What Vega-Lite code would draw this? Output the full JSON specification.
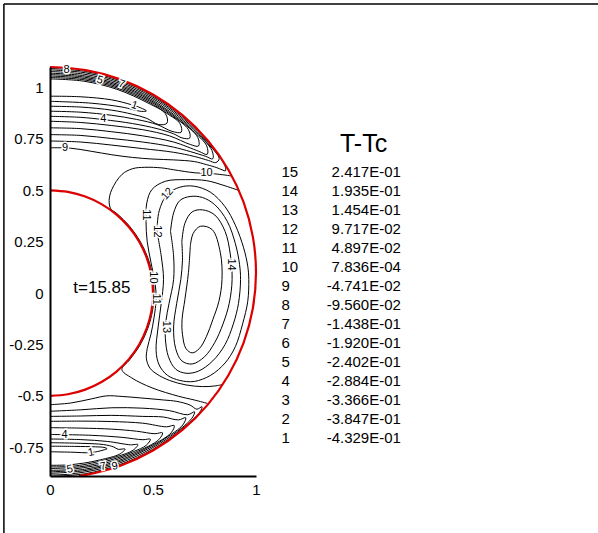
{
"$schema": "https://vega.github.io/schema/vega-lite/v6.json",
"width": 206, "height": 409,
"autosize": "none",
"padding": {"left": 50, "top": 67, "right": 342, "bottom": 57},
"background": "white",
"config": {"view": {"stroke": null}},
"datasets": {
"frame": [{"x":-0.2238,"y":1.4066,"x2":2.8,"y2":1.4066},{"x":-0.2238,"y":1.4066,"x2":-0.2238,"y2":-1.3}],
"annL": [{"x":0.113,"y":0.025,"t":"t=15.85"}],
"annT": [{"x":1.522,"y":0.727,"t":"T-Tc"}],
"contours": [
{"c":"a1","i":0,"x":0,"y":0.958},{"c":"a1","i":1,"x":0.15,"y":0.955},{"c":"a1","i":2,"x":0.3,"y":0.94},{"c":"a1","i":3,"x":0.4,"y":0.915},{"c":"a1","i":4,"x":0.45,"y":0.897},{"c":"a1","i":5,"x":0.468,"y":0.886},{"c":"a1","i":6,"x":0.445,"y":0.884},{"c":"a1","i":7,"x":0.35,"y":0.905},{"c":"a1","i":8,"x":0.2,"y":0.924},{"c":"a1","i":9,"x":0,"y":0.933},
{"c":"a2","i":0,"x":0,"y":0.909},{"c":"a2","i":1,"x":0.15,"y":0.905},{"c":"a2","i":2,"x":0.3,"y":0.89},{"c":"a2","i":3,"x":0.4,"y":0.87},{"c":"a2","i":4,"x":0.47,"y":0.85},{"c":"a2","i":5,"x":0.527,"y":0.82},{"c":"a2","i":6,"x":0.568,"y":0.827},{"c":"a2","i":7,"x":0.5608,"y":0.872},{"c":"a2","i":8,"x":0.476,"y":0.9245},{"c":"a2","i":9,"x":0.3245,"y":0.9916},{"c":"a2","i":10,"x":0.1641,"y":1.031},{"c":"a2","i":11,"x":0,"y":1.042},
{"c":"a3","i":0,"x":0,"y":0.885},{"c":"a3","i":1,"x":0.15,"y":0.88},{"c":"a3","i":2,"x":0.3,"y":0.865},{"c":"a3","i":3,"x":0.42,"y":0.845},{"c":"a3","i":4,"x":0.52,"y":0.82},{"c":"a3","i":5,"x":0.592,"y":0.787},{"c":"a3","i":6,"x":0.637,"y":0.783},{"c":"a3","i":7,"x":0.6305,"y":0.8253},{"c":"a3","i":8,"x":0.5641,"y":0.8764},{"c":"a3","i":9,"x":0.479,"y":0.9296},{"c":"a3","i":10,"x":0.3266,"y":0.9974},{"c":"a3","i":11,"x":0.1653,"y":1.0375},{"c":"a3","i":12,"x":0,"y":1.049},
{"c":"a4","i":0,"x":0,"y":0.86},{"c":"a4","i":1,"x":0.15,"y":0.855},{"c":"a4","i":2,"x":0.26,"y":0.844},{"c":"a4","i":3,"x":0.4,"y":0.825},{"c":"a4","i":4,"x":0.52,"y":0.8},{"c":"a4","i":5,"x":0.6,"y":0.775},{"c":"a4","i":6,"x":0.641,"y":0.755},{"c":"a4","i":7,"x":0.678,"y":0.754},{"c":"a4","i":8,"x":0.6718,"y":0.7956},{"c":"a4","i":9,"x":0.581,"y":0.871},{"c":"a4","i":10,"x":0.4819,"y":0.9346},{"c":"a4","i":11,"x":0.3287,"y":1.0032},{"c":"a4","i":12,"x":0.1664,"y":1.044},{"c":"a4","i":13,"x":0,"y":1.056},
{"c":"a5","i":0,"x":0,"y":0.836},{"c":"a5","i":1,"x":0.15,"y":0.83},{"c":"a5","i":2,"x":0.3,"y":0.815},{"c":"a5","i":3,"x":0.45,"y":0.795},{"c":"a5","i":4,"x":0.58,"y":0.765},{"c":"a5","i":5,"x":0.681,"y":0.723},{"c":"a5","i":6,"x":0.7209,"y":0.7156},{"c":"a5","i":7,"x":0.7174,"y":0.7574},{"c":"a5","i":8,"x":0.6245,"y":0.8443},{"c":"a5","i":9,"x":0.4848,"y":0.9396},{"c":"a5","i":10,"x":0.3308,"y":1.009},{"c":"a5","i":11,"x":0.1676,"y":1.0505},{"c":"a5","i":12,"x":0,"y":1.063},
{"c":"a6","i":0,"x":0,"y":0.804},{"c":"a6","i":1,"x":0.15,"y":0.8},{"c":"a6","i":2,"x":0.3,"y":0.785},{"c":"a6","i":3,"x":0.45,"y":0.765},{"c":"a6","i":4,"x":0.6,"y":0.735},{"c":"a6","i":5,"x":0.722,"y":0.69},{"c":"a6","i":6,"x":0.7631,"y":0.675},{"c":"a6","i":7,"x":0.7608,"y":0.7161},{"c":"a6","i":8,"x":0.6915,"y":0.7915},{"c":"a6","i":9,"x":0.628,"y":0.8484},{"c":"a6","i":10,"x":0.4876,"y":0.9445},{"c":"a6","i":11,"x":0.3329,"y":1.0148},{"c":"a6","i":12,"x":0.1687,"y":1.0569},{"c":"a6","i":13,"x":0,"y":1.07},
{"c":"a7","i":0,"x":0,"y":0.771},{"c":"a7","i":1,"x":0.15,"y":0.767},{"c":"a7","i":2,"x":0.3,"y":0.752},{"c":"a7","i":3,"x":0.45,"y":0.735},{"c":"a7","i":4,"x":0.6,"y":0.71},{"c":"a7","i":5,"x":0.754,"y":0.666},{"c":"a7","i":6,"x":0.7897,"y":0.653},{"c":"a7","i":7,"x":0.7866,"y":0.6928},{"c":"a7","i":8,"x":0.6956,"y":0.7956},{"c":"a7","i":9,"x":0.5983,"y":0.8797},{"c":"a7","i":10,"x":0.4909,"y":0.9502},{"c":"a7","i":11,"x":0.3354,"y":1.0215},{"c":"a7","i":12,"x":0.17,"y":1.0644},{"c":"a7","i":13,"x":0,"y":1.078},
{"c":"a8","i":0,"x":0,"y":0.74},{"c":"a8","i":1,"x":0.15,"y":0.735},{"c":"a8","i":2,"x":0.3,"y":0.72},{"c":"a8","i":3,"x":0.45,"y":0.703},{"c":"a8","i":4,"x":0.6,"y":0.685},{"c":"a8","i":5,"x":0.7,"y":0.665},{"c":"a8","i":6,"x":0.77,"y":0.645},{"c":"a8","i":7,"x":0.805,"y":0.635},{"c":"a8","i":8,"x":0.8212,"y":0.654},{"c":"a8","i":9,"x":0.7584,"y":0.7364},{"c":"a8","i":10,"x":0.6998,"y":0.7998},{"c":"a8","i":11,"x":0.6021,"y":0.8847},{"c":"a8","i":12,"x":0.4942,"y":0.956},{"c":"a8","i":13,"x":0.3378,"y":1.028},{"c":"a8","i":14,"x":0.1713,"y":1.0718},{"c":"a8","i":15,"x":0,"y":1.086},
{"c":"a9","i":0,"x":0,"y":0.707},{"c":"a9","i":1,"x":0.1,"y":0.705},{"c":"a9","i":2,"x":0.2,"y":0.69},{"c":"a9","i":3,"x":0.3,"y":0.673},{"c":"a9","i":4,"x":0.4,"y":0.66},{"c":"a9","i":5,"x":0.5,"y":0.652},{"c":"a9","i":6,"x":0.6,"y":0.648},{"c":"a9","i":7,"x":0.7,"y":0.64},{"c":"a9","i":8,"x":0.76,"y":0.625},{"c":"a9","i":9,"x":0.81,"y":0.61},{"c":"a9","i":10,"x":0.835,"y":0.6},{"c":"a9","i":11,"x":0.852,"y":0.595},{"c":"a9","i":12,"x":0.8487,"y":0.6201},{"c":"a9","i":13,"x":0.7622,"y":0.7397},{"c":"a9","i":14,"x":0.6393,"y":0.8619},{"c":"a9","i":15,"x":0.4971,"y":0.961},{"c":"a9","i":16,"x":0.3399,"y":1.0339},{"c":"a9","i":17,"x":0.1725,"y":1.0783},{"c":"a9","i":18,"x":0,"y":1.093},
{"c":"b1","i":0,"x":0,"y":-0.745},{"c":"b1","i":1,"x":0.12,"y":-0.746},{"c":"b1","i":2,"x":0.22,"y":-0.748},{"c":"b1","i":3,"x":0.262,"y":-0.751},{"c":"b1","i":4,"x":0.277,"y":-0.757},{"c":"b1","i":5,"x":0.258,"y":-0.764},{"c":"b1","i":6,"x":0.2,"y":-0.776},{"c":"b1","i":7,"x":0.1,"y":-0.774},{"c":"b1","i":8,"x":0,"y":-0.772},
{"c":"b2","i":0,"x":0,"y":-0.728},{"c":"b2","i":1,"x":0.15,"y":-0.731},{"c":"b2","i":2,"x":0.26,"y":-0.737},{"c":"b2","i":3,"x":0.31,"y":-0.749},{"c":"b2","i":4,"x":0.33,"y":-0.76},{"c":"b2","i":5,"x":0.3645,"y":-0.7588},{"c":"b2","i":6,"x":0.339,"y":-0.783},{"c":"b2","i":7,"x":0.2442,"y":-0.8114},{"c":"b2","i":8,"x":0.1635,"y":-0.8274},{"c":"b2","i":9,"x":0.082,"y":-0.8363},{"c":"b2","i":10,"x":0,"y":-0.838},
{"c":"b3","i":0,"x":0,"y":-0.71},{"c":"b3","i":1,"x":0.15,"y":-0.713},{"c":"b3","i":2,"x":0.28,"y":-0.722},{"c":"b3","i":3,"x":0.391,"y":-0.7383},{"c":"b3","i":4,"x":0.4265,"y":-0.7371},{"c":"b3","i":5,"x":0.4032,"y":-0.7646},{"c":"b3","i":6,"x":0.3258,"y":-0.7951},{"c":"b3","i":7,"x":0.1648,"y":-0.8348},{"c":"b3","i":8,"x":0.0826,"y":-0.844},{"c":"b3","i":9,"x":0,"y":-0.846},
{"c":"b4","i":0,"x":0,"y":-0.688},{"c":"b4","i":1,"x":0.2,"y":-0.692},{"c":"b4","i":2,"x":0.35,"y":-0.702},{"c":"b4","i":3,"x":0.451,"y":-0.7134},{"c":"b4","i":4,"x":0.4872,"y":-0.7109},{"c":"b4","i":5,"x":0.4664,"y":-0.7414},{"c":"b4","i":6,"x":0.4061,"y":-0.7709},{"c":"b4","i":7,"x":0.3281,"y":-0.8016},{"c":"b4","i":8,"x":0.1661,"y":-0.8423},{"c":"b4","i":9,"x":0,"y":-0.854},
{"c":"b5","i":0,"x":0,"y":-0.655},{"c":"b5","i":1,"x":0.15,"y":-0.657},{"c":"b5","i":2,"x":0.3,"y":-0.662},{"c":"b5","i":3,"x":0.42,"y":-0.672},{"c":"b5","i":4,"x":0.5092,"y":-0.6842},{"c":"b5","i":5,"x":0.5461,"y":-0.6799},{"c":"b5","i":6,"x":0.528,"y":-0.7131},{"c":"b5","i":7,"x":0.409,"y":-0.777},{"c":"b5","i":8,"x":0.2498,"y":-0.8325},{"c":"b5","i":9,"x":0.084,"y":-0.8594},{"c":"b5","i":10,"x":0,"y":-0.862},
{"c":"b6","i":0,"x":0,"y":-0.624},{"c":"b6","i":1,"x":0.15,"y":-0.623},{"c":"b6","i":2,"x":0.3,"y":-0.625},{"c":"b6","i":3,"x":0.45,"y":-0.633},{"c":"b6","i":4,"x":0.5657,"y":-0.6507},{"c":"b6","i":5,"x":0.6029,"y":-0.6445},{"c":"b6","i":6,"x":0.5878,"y":-0.68},{"c":"b6","i":7,"x":0.4877,"y":-0.7447},{"c":"b6","i":8,"x":0.333,"y":-0.8149},{"c":"b6","i":9,"x":0.1687,"y":-0.857},{"c":"b6","i":10,"x":0,"y":-0.87},
{"c":"b7","i":0,"x":0,"y":-0.6},{"c":"b7","i":1,"x":0.15,"y":-0.598},{"c":"b7","i":2,"x":0.3,"y":-0.595},{"c":"b7","i":3,"x":0.45,"y":-0.6},{"c":"b7","i":4,"x":0.55,"y":-0.603},{"c":"b7","i":5,"x":0.6233,"y":-0.617},{"c":"b7","i":6,"x":0.6588,"y":-0.6065},{"c":"b7","i":7,"x":0.6447,"y":-0.6416},{"c":"b7","i":8,"x":0.5632,"y":-0.7043},{"c":"b7","i":9,"x":0.4906,"y":-0.7496},{"c":"b7","i":10,"x":0.3351,"y":-0.8207},{"c":"b7","i":11,"x":0.1699,"y":-0.8635},{"c":"b7","i":12,"x":0,"y":-0.877},
{"c":"b8","i":0,"x":0,"y":-0.575},{"c":"b8","i":1,"x":0.15,"y":-0.568},{"c":"b8","i":2,"x":0.3,"y":-0.558},{"c":"b8","i":3,"x":0.45,"y":-0.56},{"c":"b8","i":4,"x":0.58,"y":-0.572},{"c":"b8","i":5,"x":0.6683,"y":-0.592},{"c":"b8","i":6,"x":0.7017,"y":-0.5777},{"c":"b8","i":7,"x":0.687,"y":-0.6114},{"c":"b8","i":8,"x":0.5668,"y":-0.7095},{"c":"b8","i":9,"x":0.4172,"y":-0.7947},{"c":"b8","i":10,"x":0.2553,"y":-0.8527},{"c":"b8","i":11,"x":0.0859,"y":-0.8818},{"c":"b8","i":12,"x":0,"y":-0.885},
{"c":"b9","i":0,"x":0,"y":-0.543},{"c":"b9","i":1,"x":0.1,"y":-0.535},{"c":"b9","i":2,"x":0.2,"y":-0.515},{"c":"b9","i":3,"x":0.276,"y":-0.5},{"c":"b9","i":4,"x":0.35,"y":-0.503},{"c":"b9","i":5,"x":0.438,"y":-0.51},{"c":"b9","i":6,"x":0.55,"y":-0.52},{"c":"b9","i":7,"x":0.616,"y":-0.527},{"c":"b9","i":8,"x":0.68,"y":-0.545},{"c":"b9","i":9,"x":0.7131,"y":-0.565},{"c":"b9","i":10,"x":0.7378,"y":-0.5527},{"c":"b9","i":11,"x":0.7277,"y":-0.5786},{"c":"b9","i":12,"x":0.6394,"y":-0.6619},{"c":"b9","i":13,"x":0.4972,"y":-0.7612},{"c":"b9","i":14,"x":0.3399,"y":-0.8341},{"c":"b9","i":15,"x":0.1725,"y":-0.8785},{"c":"b9","i":16,"x":0,"y":-0.893},
{"c":"m10","i":0,"x":0.88,"y":0.57},{"c":"m10","i":1,"x":0.8,"y":0.58},{"c":"m10","i":2,"x":0.706,"y":0.585},{"c":"m10","i":3,"x":0.6,"y":0.6},{"c":"m10","i":4,"x":0.543,"y":0.609},{"c":"m10","i":5,"x":0.46,"y":0.612},{"c":"m10","i":6,"x":0.4,"y":0.605},{"c":"m10","i":7,"x":0.349,"y":0.577},{"c":"m10","i":8,"x":0.3,"y":0.504},{"c":"m10","i":9,"x":0.287,"y":0.45},{"c":"m10","i":10,"x":0.295,"y":0.41},{"c":"m10","i":11,"x":0.3246,"y":0.3868},{"c":"m10","i":12,"x":0.3868,"y":0.3246},{"c":"m10","i":13,"x":0.4373,"y":0.2525},{"c":"m10","i":14,"x":0.4745,"y":0.1727},{"c":"m10","i":15,"x":0.4973,"y":0.0877},{"c":"m10","i":16,"x":0.505,"y":0},{"c":"m10","i":17,"x":0.4973,"y":-0.0877},{"c":"m10","i":18,"x":0.4745,"y":-0.1727},{"c":"m10","i":19,"x":0.4373,"y":-0.2525},{"c":"m10","i":20,"x":0.3868,"y":-0.3246},{"c":"m10","i":21,"x":0.349,"y":-0.372},{"c":"m10","i":22,"x":0.397,"y":-0.413},{"c":"m10","i":23,"x":0.495,"y":-0.461},{"c":"m10","i":24,"x":0.624,"y":-0.502},{"c":"m10","i":25,"x":0.7,"y":-0.52},{"c":"m10","i":26,"x":0.765,"y":-0.537},
{"c":"m11","i":0,"x":0.915,"y":0.5},{"c":"m11","i":1,"x":0.84,"y":0.525},{"c":"m11","i":2,"x":0.76,"y":0.547},{"c":"m11","i":3,"x":0.657,"y":0.552},{"c":"m11","i":4,"x":0.56,"y":0.544},{"c":"m11","i":5,"x":0.495,"y":0.504},{"c":"m11","i":6,"x":0.47,"y":0.439},{"c":"m11","i":7,"x":0.466,"y":0.35},{"c":"m11","i":8,"x":0.472,"y":0.25},{"c":"m11","i":9,"x":0.49,"y":0.15},{"c":"m11","i":10,"x":0.51,"y":0.05},{"c":"m11","i":11,"x":0.515,"y":-0.03},{"c":"m11","i":12,"x":0.505,"y":-0.12},{"c":"m11","i":13,"x":0.49,"y":-0.2},{"c":"m11","i":14,"x":0.472,"y":-0.27},{"c":"m11","i":15,"x":0.468,"y":-0.32},{"c":"m11","i":16,"x":0.485,"y":-0.365},{"c":"m11","i":17,"x":0.52,"y":-0.395},{"c":"m11","i":18,"x":0.58,"y":-0.425},{"c":"m11","i":19,"x":0.66,"y":-0.447},{"c":"m11","i":20,"x":0.74,"y":-0.455},{"c":"m11","i":21,"x":0.8,"y":-0.452},{"c":"m11","i":22,"x":0.838,"y":-0.445},
{"c":"m12","i":0,"x":0.519,"y":0.3},{"c":"m12","i":1,"x":0.53,"y":0.4},{"c":"m12","i":2,"x":0.568,"y":0.479},{"c":"m12","i":3,"x":0.63,"y":0.515},{"c":"m12","i":4,"x":0.7,"y":0.52},{"c":"m12","i":5,"x":0.78,"y":0.49},{"c":"m12","i":6,"x":0.85,"y":0.42},{"c":"m12","i":7,"x":0.9,"y":0.33},{"c":"m12","i":8,"x":0.94,"y":0.22},{"c":"m12","i":9,"x":0.96,"y":0.13},{"c":"m12","i":10,"x":0.965,"y":0.066},{"c":"m12","i":11,"x":0.96,"y":-0.04},{"c":"m12","i":12,"x":0.935,"y":-0.15},{"c":"m12","i":13,"x":0.9,"y":-0.26},{"c":"m12","i":14,"x":0.85,"y":-0.34},{"c":"m12","i":15,"x":0.78,"y":-0.4},{"c":"m12","i":16,"x":0.7,"y":-0.43},{"c":"m12","i":17,"x":0.63,"y":-0.425},{"c":"m12","i":18,"x":0.57,"y":-0.4},{"c":"m12","i":19,"x":0.53,"y":-0.35},{"c":"m12","i":20,"x":0.515,"y":-0.28},{"c":"m12","i":21,"x":0.525,"y":-0.165},{"c":"m12","i":22,"x":0.54,"y":-0.05},{"c":"m12","i":23,"x":0.551,"y":0.066},{"c":"m12","i":24,"x":0.54,"y":0.18},{"c":"m12","i":25,"x":0.519,"y":0.3},
{"c":"m13","i":0,"x":0.585,"y":0.3},{"c":"m13","i":1,"x":0.6,"y":0.39},{"c":"m13","i":2,"x":0.63,"y":0.45},{"c":"m13","i":3,"x":0.68,"y":0.47},{"c":"m13","i":4,"x":0.74,"y":0.465},{"c":"m13","i":5,"x":0.8,"y":0.43},{"c":"m13","i":6,"x":0.86,"y":0.35},{"c":"m13","i":7,"x":0.9,"y":0.24},{"c":"m13","i":8,"x":0.92,"y":0.14},{"c":"m13","i":9,"x":0.925,"y":0.066},{"c":"m13","i":10,"x":0.915,"y":-0.05},{"c":"m13","i":11,"x":0.89,"y":-0.15},{"c":"m13","i":12,"x":0.85,"y":-0.25},{"c":"m13","i":13,"x":0.79,"y":-0.33},{"c":"m13","i":14,"x":0.72,"y":-0.38},{"c":"m13","i":15,"x":0.66,"y":-0.39},{"c":"m13","i":16,"x":0.61,"y":-0.37},{"c":"m13","i":17,"x":0.575,"y":-0.31},{"c":"m13","i":18,"x":0.56,"y":-0.22},{"c":"m13","i":19,"x":0.562,"y":-0.14},{"c":"m13","i":20,"x":0.578,"y":-0.05},{"c":"m13","i":21,"x":0.6,"y":0.066},{"c":"m13","i":22,"x":0.6,"y":0.18},{"c":"m13","i":23,"x":0.585,"y":0.3},
{"c":"m14","i":0,"x":0.64,"y":0.25},{"c":"m14","i":1,"x":0.655,"y":0.34},{"c":"m14","i":2,"x":0.69,"y":0.395},{"c":"m14","i":3,"x":0.74,"y":0.405},{"c":"m14","i":4,"x":0.8,"y":0.38},{"c":"m14","i":5,"x":0.85,"y":0.3},{"c":"m14","i":6,"x":0.875,"y":0.19},{"c":"m14","i":7,"x":0.884,"y":0.066},{"c":"m14","i":8,"x":0.87,"y":-0.05},{"c":"m14","i":9,"x":0.84,"y":-0.15},{"c":"m14","i":10,"x":0.8,"y":-0.24},{"c":"m14","i":11,"x":0.75,"y":-0.31},{"c":"m14","i":12,"x":0.69,"y":-0.345},{"c":"m14","i":13,"x":0.64,"y":-0.33},{"c":"m14","i":14,"x":0.61,"y":-0.27},{"c":"m14","i":15,"x":0.6,"y":-0.165},{"c":"m14","i":16,"x":0.615,"y":-0.05},{"c":"m14","i":17,"x":0.635,"y":0.066},{"c":"m14","i":18,"x":0.643,"y":0.16},{"c":"m14","i":19,"x":0.64,"y":0.25},
{"c":"m15","i":0,"x":0.681,"y":0.228},{"c":"m15","i":1,"x":0.695,"y":0.29},{"c":"m15","i":2,"x":0.73,"y":0.325},{"c":"m15","i":3,"x":0.787,"y":0.309},{"c":"m15","i":4,"x":0.827,"y":0.196},{"c":"m15","i":5,"x":0.835,"y":0.066},{"c":"m15","i":6,"x":0.82,"y":-0.04},{"c":"m15","i":7,"x":0.79,"y":-0.13},{"c":"m15","i":8,"x":0.76,"y":-0.21},{"c":"m15","i":9,"x":0.725,"y":-0.27},{"c":"m15","i":10,"x":0.69,"y":-0.291},{"c":"m15","i":11,"x":0.66,"y":-0.27},{"c":"m15","i":12,"x":0.643,"y":-0.2},{"c":"m15","i":13,"x":0.641,"y":-0.13},{"c":"m15","i":14,"x":0.655,"y":-0.03},{"c":"m15","i":15,"x":0.672,"y":0.1},{"c":"m15","i":16,"x":0.681,"y":0.228}
],
"circles": [
{"c":"in","i":0,"x":0,"y":0.5},{"c":"in","i":1,"x":0.0868,"y":0.4924},{"c":"in","i":2,"x":0.171,"y":0.4698},{"c":"in","i":3,"x":0.25,"y":0.433},{"c":"in","i":4,"x":0.3214,"y":0.383},{"c":"in","i":5,"x":0.383,"y":0.3214},{"c":"in","i":6,"x":0.433,"y":0.25},{"c":"in","i":7,"x":0.4698,"y":0.171},{"c":"in","i":8,"x":0.4924,"y":0.0868},{"c":"in","i":9,"x":0.5,"y":0},{"c":"in","i":10,"x":0.4924,"y":-0.0868},{"c":"in","i":11,"x":0.4698,"y":-0.171},{"c":"in","i":12,"x":0.433,"y":-0.25},{"c":"in","i":13,"x":0.383,"y":-0.3214},{"c":"in","i":14,"x":0.3214,"y":-0.383},{"c":"in","i":15,"x":0.25,"y":-0.433},{"c":"in","i":16,"x":0.171,"y":-0.4698},{"c":"in","i":17,"x":0.0868,"y":-0.4924},{"c":"in","i":18,"x":0,"y":-0.5},
{"c":"out","i":0,"x":0,"y":1.1},{"c":"out","i":1,"x":0.1736,"y":1.0848},{"c":"out","i":2,"x":0.342,"y":1.0397},{"c":"out","i":3,"x":0.5,"y":0.966},{"c":"out","i":4,"x":0.6428,"y":0.866},{"c":"out","i":5,"x":0.766,"y":0.7428},{"c":"out","i":6,"x":0.866,"y":0.6},{"c":"out","i":7,"x":0.9397,"y":0.442},{"c":"out","i":8,"x":0.9848,"y":0.2736},{"c":"out","i":9,"x":1,"y":0.1},{"c":"out","i":10,"x":0.9848,"y":-0.0736},{"c":"out","i":11,"x":0.9397,"y":-0.242},{"c":"out","i":12,"x":0.866,"y":-0.4},{"c":"out","i":13,"x":0.766,"y":-0.5428},{"c":"out","i":14,"x":0.6428,"y":-0.666},{"c":"out","i":15,"x":0.5,"y":-0.766},{"c":"out","i":16,"x":0.342,"y":-0.8397},{"c":"out","i":17,"x":0.1736,"y":-0.8848},{"c":"out","i":18,"x":0.141,"y":-0.89}
],
"ymaj": [{"y":-0.75},{"y":-0.5},{"y":-0.25},{"y":0},{"y":0.25},{"y":0.5},{"y":0.75},{"y":1}],
"ymin": [{"y":-0.85},{"y":-0.8},{"y":-0.7},{"y":-0.65},{"y":-0.6},{"y":-0.55},{"y":-0.45},{"y":-0.4},{"y":-0.35},{"y":-0.3},{"y":-0.2},{"y":-0.15},{"y":-0.1},{"y":-0.05},{"y":0.05},{"y":0.1},{"y":0.15},{"y":0.2},{"y":0.3},{"y":0.35},{"y":0.4},{"y":0.45},{"y":0.55},{"y":0.6},{"y":0.65},{"y":0.7},{"y":0.8},{"y":0.85},{"y":0.9},{"y":0.95},{"y":1.05}],
"xmaj": [{"x":0.5},{"x":1}],
"xmin": [{"x":0.1},{"x":0.2},{"x":0.3},{"x":0.4},{"x":0.6},{"x":0.7},{"x":0.8},{"x":0.9}],
"lab0": [{"x":0.08,"y":1.086,"t":"8"},{"x":0.259,"y":0.845,"t":"4"},{"x":0.073,"y":0.706,"t":"9"},{"x":0.76,"y":0.582,"t":"10"},{"x":0.071,"y":-0.69,"t":"4"}],
"labP": [{"x":0.242,"y":1.035,"t":"5"},{"x":0.347,"y":1.016,"t":"7"},{"x":0.41,"y":0.912,"t":"1"}],
"labQ": [{"x":0.57,"y":0.482,"t":"12"}],
"lab90": [{"x":0.467,"y":0.38,"t":"11"},{"x":0.52,"y":0.3,"t":"12"},{"x":0.499,"y":0.076,"t":"10"},{"x":0.515,"y":-0.03,"t":"11"},{"x":0.561,"y":-0.165,"t":"13"},{"x":0.879,"y":0.139,"t":"14"}],
"labM": [{"x":0.2,"y":-0.776,"t":"1"},{"x":0.096,"y":-0.858,"t":"5"},{"x":0.258,"y":-0.845,"t":"7"},{"x":0.315,"y":-0.843,"t":"9"}],
"legend": [
{"level":15,"value":"2.417E-01"},{"level":14,"value":"1.935E-01"},{"level":13,"value":"1.454E-01"},{"level":12,"value":"9.717E-02"},{"level":11,"value":"4.897E-02"},{"level":10,"value":"7.836E-04"},{"level":9,"value":"-4.741E-02"},{"level":8,"value":"-9.560E-02"},{"level":7,"value":"-1.438E-01"},{"level":6,"value":"-1.920E-01"},{"level":5,"value":"-2.402E-01"},{"level":4,"value":"-2.884E-01"},{"level":3,"value":"-3.366E-01"},{"level":2,"value":"-3.847E-01"},{"level":1,"value":"-4.329E-01"}
]
},
"layer": [
{
"encoding": {
"x": {"field":"x","type":"quantitative","scale":{"domain":[0,1],"nice":false,"zero":false},
"axis":{"values":[0,0.5,1],"ticks":false,"grid":false,"title":null,"domainColor":"black","domainWidth":2,"labelFont":"Liberation Sans","labelFontSize":15,"labelColor":"black","labelPadding":6,"labelFlush":false,"labelOverlap":false,"labelExpr":"datum.value < 0 ? '-' + format(-datum.value,'~g') : format(datum.value,'~g')","zindex":1}},
"y": {"field":"y","type":"quantitative","scale":{"domain":[-0.89,1.1],"nice":false,"zero":false},
"axis":{"values":[-0.75,-0.5,-0.25,0,0.25,0.5,0.75,1],"ticks":false,"grid":false,"title":null,"domainColor":"black","domainWidth":2,"labelFont":"Liberation Sans","labelFontSize":15,"labelColor":"black","labelPadding":7,"labelFlush":false,"labelOverlap":false,"labelExpr":"datum.value < 0 ? '-' + format(-datum.value,'~g') : format(datum.value,'~g')","zindex":1}}
},
"layer": [
{"data":{"name":"frame"},"mark":{"type":"rule","color":"black","strokeWidth":1.5},
"encoding":{"x2":{"field":"x2"},"y2":{"field":"y2"}}},
{"data":{"name":"contours"},"mark":{"type":"line","color":"black","strokeWidth":1,"interpolate":"catmull-rom","clip":true},
"encoding":{"detail":{"field":"c","type":"nominal"},"order":{"field":"i","type":"quantitative"}}},
{"data":{"name":"circles"},"mark":{"type":"line","color":"#dd0000","strokeWidth":2.2,"interpolate":"catmull-rom"},
"encoding":{"detail":{"field":"c","type":"nominal"},"order":{"field":"i","type":"quantitative"}}},
{"data":{"name":"ymaj"},"mark":{"type":"rule","color":"black","strokeWidth":2},
"encoding":{"x":{"datum":0,"type":"quantitative","scale":{"domain":[0,1],"nice":false,"zero":false}},"x2":{"datum":0.0487}}},
{"data":{"name":"ymin"},"mark":{"type":"rule","color":"black","strokeWidth":1.5},
"encoding":{"x":{"datum":0,"type":"quantitative","scale":{"domain":[0,1],"nice":false,"zero":false}},"x2":{"datum":0.0268}}},
{"data":{"name":"xmaj"},"mark":{"type":"rule","color":"black","strokeWidth":2},
"encoding":{"y":{"datum":-0.89,"type":"quantitative","scale":{"domain":[-0.89,1.1],"nice":false,"zero":false}},"y2":{"datum":-0.8413}}},
{"data":{"name":"xmin"},"mark":{"type":"rule","color":"black","strokeWidth":1.5},
"encoding":{"y":{"datum":-0.89,"type":"quantitative","scale":{"domain":[-0.89,1.1],"nice":false,"zero":false}},"y2":{"datum":-0.8657}}},
{"data":{"name":"lab0"},"mark":{"type":"text","font":"Liberation Sans","fontSize":11,"fill":"white","stroke":"white","strokeWidth":3,"align":"center","baseline":"middle"},"encoding":{"text":{"field":"t","type":"nominal"}}},
{"data":{"name":"lab0"},"mark":{"type":"text","font":"Liberation Sans","fontSize":11,"fill":"black","align":"center","baseline":"middle"},"encoding":{"text":{"field":"t","type":"nominal"}}},
{"data":{"name":"labP"},"mark":{"type":"text","font":"Liberation Sans","fontSize":11,"fill":"white","stroke":"white","strokeWidth":3,"align":"center","baseline":"middle","angle":18},"encoding":{"text":{"field":"t","type":"nominal"}}},
{"data":{"name":"labP"},"mark":{"type":"text","font":"Liberation Sans","fontSize":11,"fill":"black","align":"center","baseline":"middle","angle":18},"encoding":{"text":{"field":"t","type":"nominal"}}},
{"data":{"name":"labQ"},"mark":{"type":"text","font":"Liberation Sans","fontSize":11,"fill":"white","stroke":"white","strokeWidth":3,"align":"center","baseline":"middle","angle":311},"encoding":{"text":{"field":"t","type":"nominal"}}},
{"data":{"name":"labQ"},"mark":{"type":"text","font":"Liberation Sans","fontSize":11,"fill":"black","align":"center","baseline":"middle","angle":311},"encoding":{"text":{"field":"t","type":"nominal"}}},
{"data":{"name":"lab90"},"mark":{"type":"text","font":"Liberation Sans","fontSize":11,"fill":"white","stroke":"white","strokeWidth":3,"align":"center","baseline":"middle","angle":90},"encoding":{"text":{"field":"t","type":"nominal"}}},
{"data":{"name":"lab90"},"mark":{"type":"text","font":"Liberation Sans","fontSize":11,"fill":"black","align":"center","baseline":"middle","angle":90},"encoding":{"text":{"field":"t","type":"nominal"}}},
{"data":{"name":"labM"},"mark":{"type":"text","font":"Liberation Sans","fontSize":11,"fill":"white","stroke":"white","strokeWidth":3,"align":"center","baseline":"middle","angle":348},"encoding":{"text":{"field":"t","type":"nominal"}}},
{"data":{"name":"labM"},"mark":{"type":"text","font":"Liberation Sans","fontSize":11,"fill":"black","align":"center","baseline":"middle","angle":348},"encoding":{"text":{"field":"t","type":"nominal"}}},
{"data":{"name":"annL"},"mark":{"type":"text","font":"Liberation Sans","fontSize":17,"fill":"black","align":"left","baseline":"middle"},
"encoding":{"text":{"field":"t","type":"nominal"}}},
{"data":{"name":"annT"},"mark":{"type":"text","font":"Liberation Sans","fontSize":25,"fill":"black","align":"center","baseline":"middle"},
"encoding":{"text":{"field":"t","type":"nominal"}}}
]
},
{
"data": {"name":"legend"},
"encoding": {"y": {"field":"level","type":"quantitative","scale":{"domain":[-1.015,20.51],"nice":false,"zero":false},"axis":null}},
"layer": [
{"mark":{"type":"text","font":"Liberation Sans","fontSize":15,"fill":"black","align":"left","baseline":"middle"},
"encoding":{"x":{"datum":1.1236,"type":"quantitative","scale":{"domain":[0,1],"nice":false,"zero":false}},"text":{"field":"level","type":"nominal"}}},
{"mark":{"type":"text","font":"Liberation Sans","fontSize":15,"fill":"black","align":"right","baseline":"middle"},
"encoding":{"x":{"datum":1.7032,"type":"quantitative","scale":{"domain":[0,1],"nice":false,"zero":false}},"text":{"field":"value","type":"nominal"}}}
]
}
],
"resolve": {"scale": {"y": "independent"}, "axis": {"y": "independent"}}
}
